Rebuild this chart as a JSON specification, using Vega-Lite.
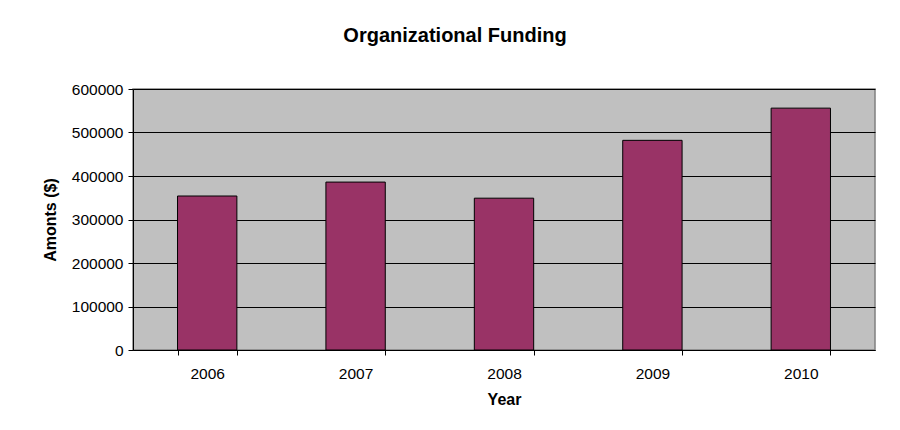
{
  "$schema": "https://vega.github.io/schema/vega-lite/v6.json",
  "autosize": "none",
  "width": 742,
  "height": 261,
  "padding": {"left": 133, "top": 89, "right": 25, "bottom": 80},
  "background": "white",
  "title": {
    "text": "Organizational Funding",
    "font": "Liberation Sans",
    "fontSize": 20,
    "fontWeight": "bold",
    "color": "black",
    "anchor": "middle",
    "dx": -49,
    "offset": 36
  },
  "data": {
    "values": [
      {"Year": "2006", "Amount": 354000},
      {"Year": "2007", "Amount": 386000},
      {"Year": "2008", "Amount": 349000},
      {"Year": "2009", "Amount": 482000},
      {"Year": "2010", "Amount": 556000}
    ]
  },
  "mark": {"type": "bar", "color": "#993366", "stroke": "black", "strokeWidth": 1},
  "encoding": {
    "x": {
      "field": "Year",
      "type": "ordinal",
      "scale": {"paddingInner": 0.6, "paddingOuter": 0.3},
      "axis": {
        "title": "Year",
        "labelAngle": 0,
        "tickBand": "extent",
        "labelPadding": 11,
        "titlePadding": 10,
        "grid": false
      }
    },
    "y": {
      "field": "Amount",
      "type": "quantitative",
      "scale": {"domain": [0, 600000], "nice": false},
      "axis": {
        "title": "Amonts ($)",
        "values": [0, 100000, 200000, 300000, 400000, 500000, 600000],
        "format": "d",
        "labelPadding": 5,
        "titlePadding": 13,
        "grid": true,
        "gridColor": "black",
        "gridOpacity": 1,
        "gridWidth": 1
      }
    }
  },
  "config": {
    "view": {"fill": "#C0C0C0", "stroke": "#808080", "strokeWidth": 1.5},
    "axis": {
      "labelFont": "Liberation Sans",
      "labelFontSize": 15.5,
      "labelColor": "black",
      "titleFont": "Liberation Sans",
      "titleFontSize": 16,
      "titleFontWeight": "bold",
      "titleColor": "black",
      "domainColor": "black",
      "domainWidth": 1,
      "tickColor": "black",
      "tickSize": 5,
      "tickWidth": 1
    }
  }
}
